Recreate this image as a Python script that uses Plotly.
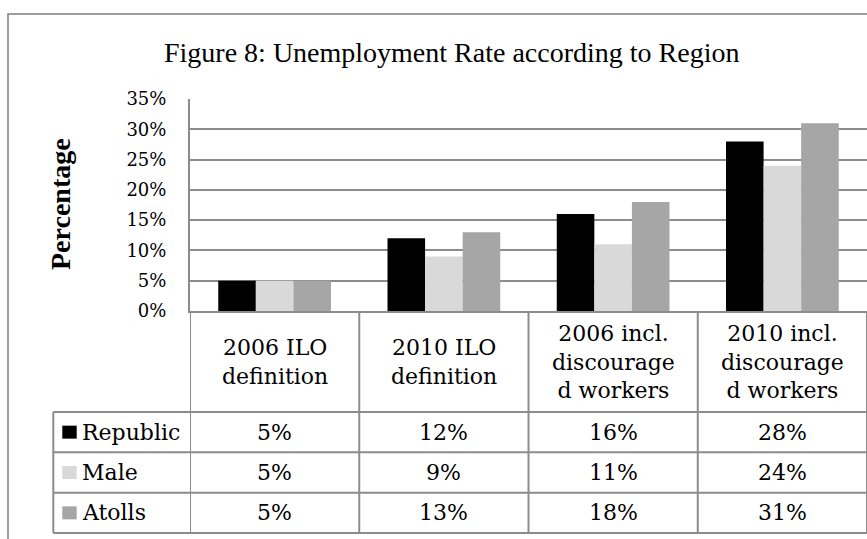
import plotly.graph_objects as go

# ---- data ----
categories = ["2006 ILO<br>definition", "2010 ILO<br>definition",
              "2006 incl.<br>discourage<br>d workers", "2010 incl.<br>discourage<br>d workers"]
series_names = ["Republic", "Male", "Atolls"]
republic = [5, 12, 16, 28]
male = [5, 9, 11, 24]
atolls = [5, 13, 18, 31]
y_ticks = [0, 5, 10, 15, 20, 25, 30, 35]
title_text = "Figure 8: Unemployment Rate according to Region"
y_title = "Percentage"

# ---- layout geometry (pixels) ----
W, H = 867, 539
L, R, T, B = 190, 0, 99, 228
PW, PH = W - L - R, H - T - B


def px(x):
    return (x - L) / PW


def py(y):
    return (H - B - y) / PH


colors = ["#000000", "#D9D9D9", "#A6A6A6"]
series = [republic, male, atolls]
x_idx = list(range(len(categories)))
LINE = "#8C8C8C"
SERIF = "DejaVu Serif"
TFS = 22

fig = go.Figure()
for name, vals, c in zip(series_names, series, colors):
    fig.add_trace(go.Bar(x=x_idx, y=[v / 100 for v in vals], name=name,
                         marker=dict(color=c, line=dict(width=0)),
                         showlegend=False, hoverinfo="skip"))

shapes = []
annotations = []

# table geometry
row_tops = [412, 452.3, 492.7, 533]
header_top = H - B
leg_left = 53.3

# horizontal table lines
for yy in row_tops:
    shapes.append(dict(type="line", xref="paper", yref="paper",
                       x0=px(leg_left), x1=1.02, y0=py(yy), y1=py(yy),
                       line=dict(color=LINE, width=2)))
# vertical lines between categories
for i in range(len(categories) + 1):
    shapes.append(dict(type="line", xref="x", yref="paper",
                       x0=i - 0.5, x1=i - 0.5, y0=0, y1=py(row_tops[-1]),
                       line=dict(color=LINE, width=2)))
# legend column left border
shapes.append(dict(type="line", xref="paper", yref="paper",
                   x0=px(leg_left), x1=px(leg_left), y0=py(row_tops[0]), y1=py(row_tops[-1]),
                   line=dict(color=LINE, width=2)))

# header category labels
for i, cat in enumerate(categories):
    annotations.append(dict(x=i, y=py((header_top + row_tops[0]) / 2), xref="x", yref="paper",
                            text=cat, showarrow=False, xanchor="center", yanchor="middle",
                            font=dict(family=SERIF, size=TFS, color="#000000")))

# value rows + legend cells
for r, (name, vals, c) in enumerate(zip(series_names, series, colors)):
    ytop, ybot = row_tops[r], row_tops[r + 1]
    ymid = (ytop + ybot) / 2
    for i, v in enumerate(vals):
        annotations.append(dict(x=i, y=py(ymid), xref="x", yref="paper",
                                text=f"{v}%", showarrow=False, xanchor="center", yanchor="middle",
                                font=dict(family=SERIF, size=TFS, color="#000000")))
    shapes.append(dict(type="rect", xref="paper", yref="paper",
                       x0=px(62.3), x1=px(76.7), y0=py(ymid + 6.5), y1=py(ymid - 6.5),
                       fillcolor=c, line=dict(width=0)))
    annotations.append(dict(x=px(80), y=py(ymid), xref="paper", yref="paper",
                            text=name, showarrow=False, xanchor="left", yanchor="middle",
                            font=dict(family=SERIF, size=TFS, color="#000000")))

# outer frame
shapes.append(dict(type="rect", xref="paper", yref="paper",
                   x0=px(8), x1=px(880), y0=py(560), y1=py(14),
                   line=dict(color="#7F7F7F", width=1.5), fillcolor="rgba(0,0,0,0)", layer="below"))

# title
annotations.append(dict(x=px(451), y=py(52), xref="paper", yref="paper",
                        text=title_text, showarrow=False, xanchor="center", yanchor="middle",
                        font=dict(family="Liberation Serif", size=28, color="#000000")))
# y axis title
annotations.append(dict(x=px(60), y=py(204), xref="paper", yref="paper",
                        text=f"<b>{y_title}</b>", showarrow=False, textangle=-90,
                        xanchor="center", yanchor="middle",
                        font=dict(family="Liberation Serif", size=28, color="#000000")))

fig.update_layout(
    width=W, height=H,
    margin=dict(l=L, r=R, t=T, b=B, pad=0),
    paper_bgcolor="white", plot_bgcolor="white",
    barmode="group", bargap=0.334, bargroupgap=0,
    shapes=shapes, annotations=annotations,
    xaxis=dict(range=[-0.5, len(categories) - 0.5], showticklabels=False, showgrid=False,
               zeroline=False, showline=True, linecolor=LINE, linewidth=2, ticks="",
               fixedrange=True),
    yaxis=dict(range=[0, 0.35], tickvals=[v / 100 for v in y_ticks],
               ticktext=[f"{v}%" for v in y_ticks], showgrid=True, gridcolor=LINE, gridwidth=2,
               zeroline=False, showline=True, linecolor=LINE, linewidth=2, ticks="",
               ticklabelstandoff=18, tickfont=dict(family=SERIF, size=18, color="#000000"),
               fixedrange=True),
)

fig.write_html("out.html")
